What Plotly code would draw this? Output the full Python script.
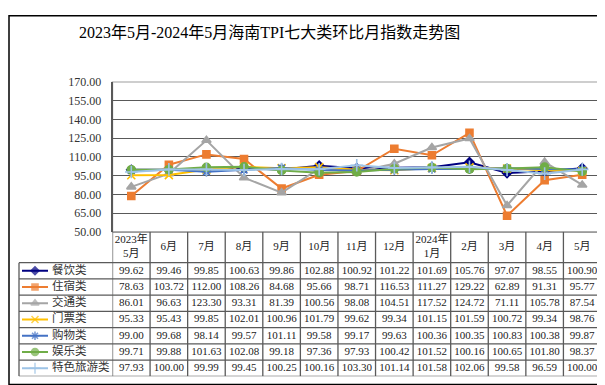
import plotly.graph_objects as go

# ---------------- data ----------------
months = ["2023年<br>5月", "6月", "7月", "8月", "9月", "10月", "11月", "12月",
          "2024年<br>1月", "2月", "3月", "4月", "5月"]
series_names = ["餐饮类", "住宿类", "交通类", "门票类", "购物类", "娱乐类", "特色旅游类"]
canyin = [99.62, 99.46, 99.85, 100.63, 99.86, 102.88, 100.92, 101.22, 101.69, 105.76, 97.07, 98.55, 100.90]
zhusu = [78.63, 103.72, 112.00, 108.26, 84.68, 95.66, 98.71, 116.53, 111.27, 129.22, 62.89, 91.31, 95.77]
jiaotong = [86.01, 96.63, 123.30, 93.31, 81.39, 100.56, 98.08, 104.51, 117.52, 124.72, 71.11, 105.78, 87.54]
menpiao = [95.33, 95.43, 99.85, 102.01, 100.96, 101.79, 99.62, 99.34, 101.15, 101.59, 100.72, 99.34, 98.76]
gouwu = [99.00, 99.68, 98.14, 99.57, 101.11, 99.58, 99.17, 99.63, 100.36, 100.35, 100.83, 100.38, 99.87]
yule = [99.71, 99.88, 101.63, 102.08, 99.18, 97.36, 97.93, 100.42, 101.52, 100.16, 100.65, 101.80, 98.37]
tese = [97.93, 100.00, 99.99, 99.45, 100.25, 100.16, 103.30, 101.14, 101.58, 102.06, 99.58, 96.59, 100.00]
values = [canyin, zhusu, jiaotong, menpiao, gouwu, yule, tese]
y_ticks = [50, 65, 80, 95, 110, 125, 140, 155, 170]
title_text = "2023年5月-2024年5月海南TPI七大类环比月指数走势图"

# ---------------- styles ----------------
colors = ["#000080", "#ED7D31", "#A5A5A5", "#FFC000", "#4472C4", "#70AD47", "#9DC3E6"]
symbols = ["diamond", "square", "triangle-up", "x-thin-open", "asterisk-open", "circle", "cross-thin-open"]
msizes = [7, 7, 8, 8, 8, 8, 9]

W, H = 605, 385
FONT = "Liberation Serif, Noto Sans CJK SC, serif"


def px_x(p):
    return p / W


def px_y(p):
    return 1 - p / H


plot_left, plot_right = 104.5, 593
plot_top, plot_bottom = 69.5, 225
table_bottom = 375
legend_left = 11
header_h = 1.9
n_rows = len(series_names)
table_units = header_h + n_rows

fig = go.Figure()

# chart lines
for name, vals, c, s, ms in zip(series_names, values, colors, symbols, msizes):
    fig.add_trace(go.Scatter(
        x=months, y=vals, name=name, mode="lines+markers",
        line=dict(color=c, width=2),
        marker=dict(symbol=s, size=ms, color=c, line=dict(color=c, width=1.6)),
        xaxis="x", yaxis="y", showlegend=False, hoverinfo="skip"))

# table header
fig.add_trace(go.Scatter(
    x=months, y=[header_h / 2] * len(months), text=months, mode="text",
    textfont=dict(family=FONT, size=11, color="#222222"),
    xaxis="x2", yaxis="y2", showlegend=False, hoverinfo="skip"))

# table values
for i, vals in enumerate(values):
    fig.add_trace(go.Scatter(
        x=months, y=[header_h + i + 0.5] * len(months),
        text=[f"{v:.2f}" for v in vals], mode="text",
        textfont=dict(family=FONT, size=11, color="#222222"),
        xaxis="x2", yaxis="y2", showlegend=False, hoverinfo="skip"))

# legend column inside table (xaxis3 in pixel units of the column)
for i, (name, c, s, ms) in enumerate(zip(series_names, colors, symbols, msizes)):
    yrow = header_h + i + 0.5
    fig.add_trace(go.Scatter(
        x=[3, 16, 29], y=[yrow] * 3, mode="lines+markers",
        line=dict(color=c, width=2),
        marker=dict(symbol=s, size=[0, ms - 1, 0], color=c, line=dict(color=c, width=1.6)),
        xaxis="x3", yaxis="y2", showlegend=False, hoverinfo="skip"))
    fig.add_trace(go.Scatter(
        x=[33], y=[yrow], text=[name], mode="text", textposition="middle right",
        textfont=dict(family=FONT, size=11.5, color="#333333"),
        xaxis="x3", yaxis="y2", showlegend=False, hoverinfo="skip"))

shapes = []
# plot border (light gray)
shapes.append(dict(type="rect", xref="paper", yref="paper",
                   x0=px_x(plot_left), x1=px_x(plot_right), y0=px_y(plot_bottom), y1=px_y(plot_top),
                   line=dict(color="#BFBFBF", width=1.5), layer="below"))
# table grid
tcol = "#5A5A5A"
ncol = len(months)
for k in range(ncol + 1):
    shapes.append(dict(type="line", xref="x2", yref="y2", x0=k - 0.5, x1=k - 0.5,
                       y0=0, y1=table_units, line=dict(color=tcol, width=1.3)))
shapes.append(dict(type="line", xref="x2", yref="y2", x0=-0.5, x1=ncol - 0.5,
                   y0=0, y1=0, line=dict(color=tcol, width=1.3)))
for r in range(n_rows + 1):
    shapes.append(dict(type="line", xref="paper", yref="y2", x0=px_x(legend_left), x1=px_x(plot_right),
                       y0=header_h + r, y1=header_h + r, line=dict(color=tcol, width=1.3)))
shapes.append(dict(type="line", xref="paper", yref="y2", x0=px_x(legend_left), x1=px_x(legend_left),
                   y0=header_h, y1=table_units, line=dict(color=tcol, width=1.3)))
# outer frame
shapes.append(dict(type="rect", xref="paper", yref="paper",
                   x0=px_x(1), x1=px_x(603.5), y0=px_y(383.5), y1=px_y(0.8),
                   line=dict(color="#000000", width=1.5)))

fig.update_layout(
    width=W, height=H,
    margin=dict(l=0, r=0, t=0, b=0),
    paper_bgcolor="white", plot_bgcolor="white",
    shapes=shapes,
    annotations=[dict(text=title_text, xref="paper", yref="paper",
                      x=px_x(261), y=px_y(18), xanchor="center", yanchor="middle",
                      showarrow=False, font=dict(family=FONT, size=16, color="#000000"))],
    xaxis=dict(domain=[px_x(plot_left), px_x(plot_right)], type="category",
               categoryorder="array", categoryarray=months,
               range=[-0.5, len(months) - 0.5], showticklabels=False,
               showgrid=False, zeroline=False, showline=False, fixedrange=True),
    yaxis=dict(domain=[px_y(plot_bottom), px_y(plot_top)], range=[50, 170],
               tickvals=y_ticks, tickformat=".2f",
               tickfont=dict(family=FONT, size=12, color="#333333"),
               showgrid=True, gridcolor="#595959", gridwidth=1.2,
               showline=True, linecolor="#595959", linewidth=1.5,
               zeroline=False, ticks="outside", ticklen=7, tickcolor="rgba(0,0,0,0)",
               fixedrange=True),
    xaxis2=dict(domain=[px_x(plot_left), px_x(plot_right)], type="category",
                categoryorder="array", categoryarray=months,
                range=[-0.5, len(months) - 0.5], anchor="y2", visible=False, fixedrange=True),
    yaxis2=dict(domain=[px_y(table_bottom), px_y(plot_bottom)], range=[table_units, 0],
                anchor="x2", visible=False, fixedrange=True),
    xaxis3=dict(domain=[px_x(legend_left), px_x(plot_left)], range=[0, plot_left - legend_left],
                anchor="y2", visible=False, fixedrange=True),
)

fig.write_html("out.html")
